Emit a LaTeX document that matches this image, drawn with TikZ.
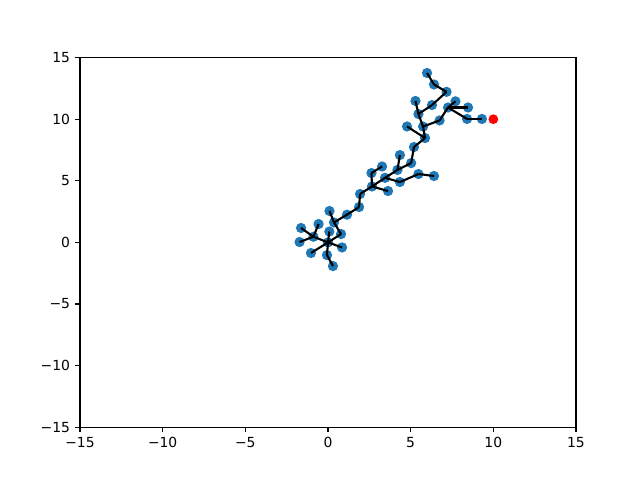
\documentclass[tikz,border=0pt]{standalone}
\usepackage{fontspec}
\setmainfont{DejaVu Sans}
\definecolor{mblue}{HTML}{1F77B4}
\begin{document}
\begin{tikzpicture}[x=11.904pt,y=8.8704pt,
  pt/.style={circle,fill=mblue,inner sep=0pt,minimum size=7.4pt},
  goalpt/.style={circle,fill=red,inner sep=0pt,minimum size=7pt},
  edge/.style={black,line width=1.5pt},
  spine/.style={black,line width=0.8pt},
  ticklab/.style={font=\fontsize{10}{12}\selectfont,inner sep=0pt}]
\useasboundingbox (-19.8387,-19.2857) rectangle (18.871,19.675);
% axes frame
\draw[spine] (-15,-15) rectangle (15,15);
\foreach \v/\t in {-15/−15,-10/−10,-5/−5,0/0,5/5,10/10,15/15}{
  \draw[spine] (\v,-15) -- ++(0,-3.5pt);
  \node[ticklab,anchor=north] (xl\v) at ([yshift=-7pt]\v,-15) {\t};
  \draw[spine] (-15,\v) -- ++(-3.5pt,0);
  \node[ticklab,anchor=east] (yl\v) at ([xshift=-7pt]-15,\v) {\t};
}
% tree vertices
\foreach \n/\x/\y in {
  R/0/0, A/-0.88/0.46, A1/-1.63/1.17, A2/-1.72/0.03, A3/-0.57/1.49,
  Cz/0.08/0.88, C/0.79/0.68, D/0.36/1.62, D1/0.09/2.55, E/1.15/2.25,
  F/1.88/2.87, G/1.94/3.93, H/2.66/4.54, I/2.63/5.63, J/3.27/6.16,
  K/3.45/5.24, K1/3.63/4.17, L/4.2/5.88, M/4.35/7.09, N/4.35/4.9,
  O/5.47/5.55, P/6.41/5.39, Q/5.03/6.44, S/5.2/7.74, T/5.87/8.47,
  T1/4.78/9.41, U/5.75/9.4, V/5.47/10.42, W/5.29/11.48, X/6.29/11.15,
  X1/7.17/12.22, X2/6.41/12.82, X3/5.99/13.75, Y/6.75/9.9, Z/7.26/10.95,
  Z1/7.71/11.45, Z2/8.47/10.95, Z3/8.41/10.02, Z4/9.31/10.02,
  B1/-1.03/-0.86, B2/-0.06/-1.03, B3/0.3/-1.92, B4/0.85/-0.41}{
  \node[pt] (\n) at (\x,\y) {};
}
% tree edges
\foreach \a/\b in {R/A, A/A1, A/A2, A/A3, R/Cz, R/C, C/D, D/D1, D/E, E/F,
  F/G, G/H, H/I, I/J, H/K, H/K1, K/L, L/M, L/Q, K/N, N/O, O/P, Q/S, S/T,
  T/T1, T/U, U/V, V/W, V/X, X/X1, X1/X2, X2/X3, U/Y, Y/Z, Z/Z1, Z/Z2,
  Z/Z3, Z3/Z4, R/B1, R/B2, B2/B3, R/B4}{
  \draw[edge] (\a.center) -- (\b.center);
}
% goal
\node[goalpt] (goal) at (10,10) {};
\end{tikzpicture}
\end{document}
